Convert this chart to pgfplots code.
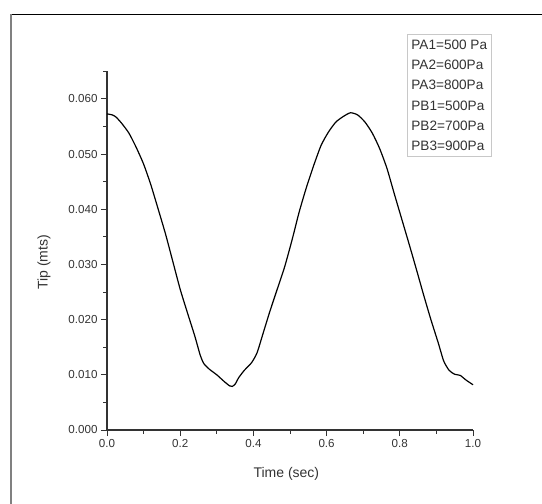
\documentclass[border=0pt]{standalone}
\usepackage{fontspec}
\setmainfont{Liberation Sans}
\usepackage{pgfplots}
\pgfplotsset{compat=1.18}
\definecolor{inkgray}{HTML}{333333}
\definecolor{boxgray}{HTML}{C8C8C8}

\pgfplotstableread{
t tip
0.000 0.0573
0.015 0.0571
0.025 0.0567
0.040 0.0556
0.060 0.0538
0.080 0.0512
0.100 0.0482
0.120 0.0444
0.140 0.0400
0.160 0.0355
0.180 0.0305
0.200 0.0255
0.220 0.0212
0.240 0.0170
0.255 0.0135
0.265 0.0120
0.280 0.0110
0.300 0.0100
0.320 0.0088
0.335 0.0080
0.342 0.0079
0.350 0.0083
0.360 0.0095
0.375 0.0108
0.395 0.0122
0.410 0.0140
0.425 0.0172
0.445 0.0215
0.465 0.0255
0.485 0.0295
0.505 0.0343
0.525 0.0395
0.545 0.0440
0.565 0.0480
0.585 0.0516
0.605 0.0540
0.625 0.0558
0.645 0.0568
0.665 0.0575
0.685 0.0571
0.705 0.0558
0.725 0.0538
0.745 0.0510
0.765 0.0474
0.785 0.0428
0.805 0.0383
0.825 0.0338
0.845 0.0292
0.865 0.0245
0.885 0.0200
0.905 0.0158
0.920 0.0125
0.935 0.0108
0.950 0.0101
0.965 0.0099
0.980 0.0091
1.000 0.0082
}\tipdata

\begin{document}
\begin{tikzpicture}
\useasboundingbox (0,0) rectangle (542bp,504bp);
% outer frame (only top and left edges show)
\draw[line width=1.4bp, black] (11bp,489.7bp) -- (542bp,489.7bp);
\draw[line width=1.4bp, gray] (11bp,0) -- (11bp,490.4bp);
\begin{axis}[
  at={(107bp,74bp)}, anchor=south west,
  scale only axis, width=366bp, height=358.6bp,
  xmin=0, xmax=1, ymin=0, ymax=0.065,
  axis x line*=bottom, axis y line*=left,
  axis line style={inkgray, line width=1.1bp, -},
  xtick={0,0.2,0.4,0.6,0.8,1.0},
  minor xtick={0.1,0.3,0.5,0.7,0.9},
  ytick={0,0.01,0.02,0.03,0.04,0.05,0.06},
  minor ytick={0.005,0.015,0.025,0.035,0.045,0.055,0.065},
  tick align=outside,
  major tick length=6bp, minor tick length=3.5bp,
  tick style={inkgray, line width=1bp},
  scaled y ticks=false,
  xticklabel style={/pgf/number format/fixed, /pgf/number format/fixed zerofill, /pgf/number format/precision=1},
  yticklabel style={/pgf/number format/fixed, /pgf/number format/fixed zerofill, /pgf/number format/precision=3},
  /pgf/number format/assume math mode=true,
  tick label style={font=\fontsize{11.6bp}{13bp}\selectfont, text=inkgray},
  xlabel={Time (sec)}, ylabel={Tip (mts)},
  label style={font=\fontsize{14bp}{16bp}\selectfont, text=inkgray},
  xlabel style={at={(axis description cs:0.49,-0.123)}, anchor=center},
  ylabel style={at={(axis description cs:-0.172,0.468)}, anchor=center},
  clip=false,
]
\addplot[black, line width=1.2bp, smooth, tension=0.4] table[x=t, y=tip] {\tipdata};
\end{axis}
\node[draw=boxgray, line width=0.8bp, fill=white, anchor=north west, align=left,
      inner xsep=4bp, inner ysep=5.3bp, text=inkgray,
      font=\fontsize{13.6bp}{20.3bp}\selectfont] at (407bp,470bp)
  {PA1=500 Pa\\PA2=600Pa\\PA3=800Pa\\PB1=500Pa\\PB2=700Pa\\PB3=900Pa};
\end{tikzpicture}
\end{document}
